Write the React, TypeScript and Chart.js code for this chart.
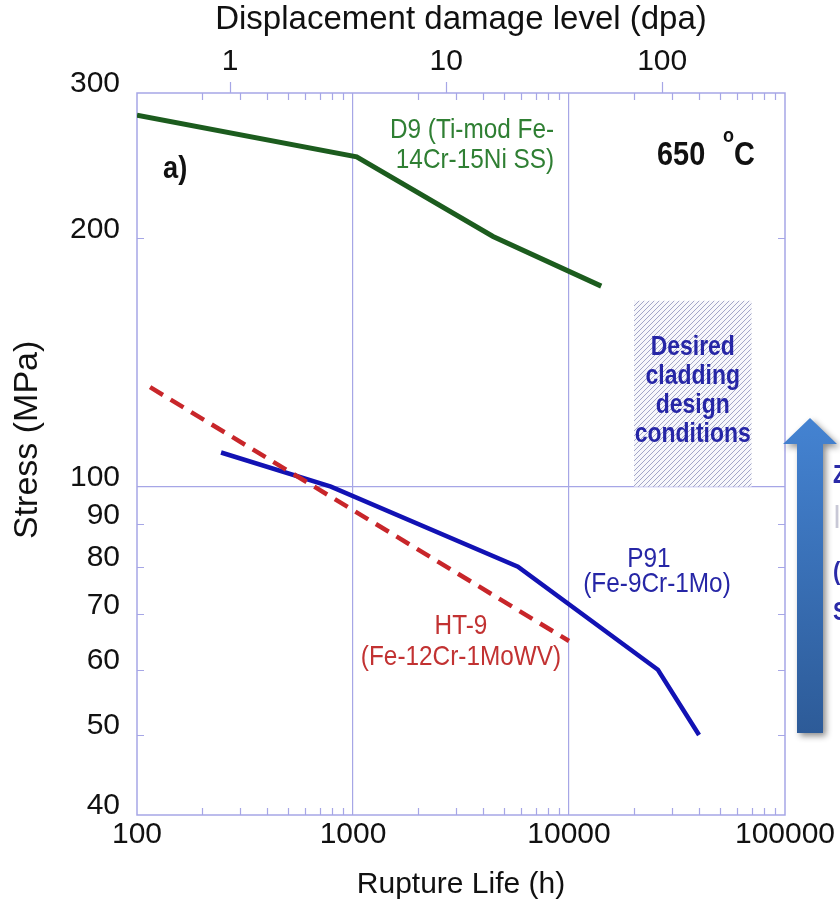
import React, { useEffect, useRef } from 'react';
import { Chart, registerables } from 'chart.js';

Chart.register(...registerables);

// ---------- data ----------
const X_TICKS = [100, 1000, 10000, 100000];
const X_GRID = [1000, 10000];
const DPA_TICKS = [1, 10, 100];
const HOURS_PER_DPA = 270;
const Y_TICKS = [40, 50, 60, 70, 80, 90, 100, 200, 300];
const Y_MINOR = [50, 60, 70, 80, 90, 200];
const Y_GRID = [100];

const D9_HOURS = [100, 1040, 4450, 14100];
const D9_STRESS = [282, 251, 201, 175];
const HT9_HOURS = [115, 10000];
const HT9_STRESS = [132, 65];
const P91_HOURS = [245, 790, 5800, 25800, 40000];
const P91_STRESS = [110, 100, 80, 60, 50];

const TARGET_HOURS = [20000, 70000];
const TARGET_STRESS = [100, 168];

// ---------- styles ----------
const FONT = "'Liberation Sans', Arial, Helvetica, sans-serif";
const AXIS = '#a6a6e6';
const TEXT = '#111111';
const GREEN = '#1c5c1e';
const GREEN_TXT = '#2f7f33';
const BLUE = '#1212b4';
const BLUE_TXT = '#2626a6';
const RED = '#c8262a';
const RED_TXT = '#c23232';

function pts(xs: number[], ys: number[]) {
  return xs.map((x, i) => ({ x, y: ys[i] }));
}

function hatch(ctx: CanvasRenderingContext2D) {
  const c = document.createElement('canvas');
  c.width = 5;
  c.height = 5;
  const g = c.getContext('2d')!;
  g.fillStyle = '#f7f7fb';
  g.fillRect(0, 0, 5, 5);
  g.strokeStyle = '#a3a6c8';
  g.lineWidth = 1;
  g.beginPath();
  g.moveTo(-1, 6);
  g.lineTo(6, -1);
  g.moveTo(-1, 1);
  g.lineTo(1, -1);
  g.moveTo(4, 6);
  g.lineTo(6, 4);
  g.stroke();
  return ctx.createPattern(c, 'repeat')!;
}

function txt(
  ctx: CanvasRenderingContext2D,
  s: string,
  x: number,
  baseline: number,
  font: string,
  color: string,
  align: CanvasTextAlign,
  sx: number
) {
  ctx.save();
  ctx.font = font;
  ctx.fillStyle = color;
  ctx.textAlign = align;
  ctx.textBaseline = 'alphabetic';
  ctx.translate(x, baseline);
  ctx.scale(sx, 1);
  ctx.fillText(s, 0, 0);
  ctx.restore();
}

const decor = {
  id: 'decor',
  beforeDatasetsDraw(chart: any) {
    const { ctx, chartArea: a, scales } = chart;
    const x = scales.x;
    const y = scales.y;
    const x2 = scales.x2;
    ctx.save();
    // desired design region
    const bx0 = x.getPixelForValue(TARGET_HOURS[0]);
    const bx1 = x.getPixelForValue(TARGET_HOURS[1]);
    const by0 = y.getPixelForValue(TARGET_STRESS[1]);
    const by1 = y.getPixelForValue(TARGET_STRESS[0]);
    ctx.fillStyle = hatch(ctx);
    ctx.fillRect(bx0, by0, bx1 - bx0, by1 - by0);

    // frame
    ctx.strokeStyle = AXIS;
    ctx.lineWidth = 1.5;
    ctx.strokeRect(a.left, a.top, a.right - a.left, a.bottom - a.top);

    // inward minor ticks
    ctx.lineWidth = 1.2;
    ctx.beginPath();
    for (let d = 100; d < 100000; d *= 10) {
      for (let m = 2; m <= 9; m++) {
        const px = Math.round(x.getPixelForValue(d * m)) + 0.5;
        ctx.moveTo(px, a.bottom);
        ctx.lineTo(px, a.bottom - 7);
        ctx.moveTo(px, a.top);
        ctx.lineTo(px, a.top + 7);
      }
    }
    for (const v of Y_MINOR) {
      const py = Math.round(y.getPixelForValue(v)) + 0.5;
      ctx.moveTo(a.left, py);
      ctx.lineTo(a.left + 7, py);
      ctx.moveTo(a.right, py);
      ctx.lineTo(a.right - 7, py);
    }
    // outward ticks of dpa axis
    for (const v of DPA_TICKS) {
      const px = Math.round(x2.getPixelForValue(v)) + 0.5;
      ctx.moveTo(px, a.top);
      ctx.lineTo(px, a.top - 11);
    }
    ctx.stroke();
    ctx.restore();
  },
  afterDatasetsDraw(chart: any) {
    const { ctx, scales } = chart;
    const x = scales.x;
    const y = scales.y;
    const reg = `28px ${FONT}`;
    const SX = 0.87;

    // D9 label
    const d9x = x.getPixelForValue(3556);
    const d9y = y.getPixelForValue(264.6);
    txt(ctx, 'D9 (Ti-mod Fe-', d9x, d9y, reg, GREEN_TXT, 'center', SX);
    txt(ctx, '14Cr-15Ni SS)', d9x + 3, d9y + 30, reg, GREEN_TXT, 'center', SX);

    // P91 label
    const p9x = x.getPixelForValue(24480);
    const p9y = y.getPixelForValue(80);
    txt(ctx, 'P91', p9x - 4, p9y, reg, BLUE_TXT, 'center', SX);
    txt(ctx, '(Fe-9Cr-1Mo)', p9x + 4, p9y + 25, reg, BLUE_TXT, 'center', SX);

    // HT-9 label
    const htx = x.getPixelForValue(3162);
    const hty = y.getPixelForValue(66.3);
    txt(ctx, 'HT-9', htx, hty, reg, RED_TXT, 'center', SX);
    txt(ctx, '(Fe-12Cr-1MoWV)', htx, hty + 31, reg, RED_TXT, 'center', SX);

    // temperature
    const tx = x.getPixelForValue(25560);
    const ty = y.getPixelForValue(245.4);
    txt(ctx, '650', tx, ty, `bold 34px ${FONT}`, TEXT, 'left', 0.85);
    txt(ctx, 'o', tx + 66, ty - 23, `bold 20px ${FONT}`, TEXT, 'left', 0.9);
    txt(ctx, 'C', tx + 77, ty, `bold 34px ${FONT}`, TEXT, 'left', 0.85);

    // panel letter
    txt(ctx, 'a)', x.getPixelForValue(132), y.getPixelForValue(236.6), `bold 32px ${FONT}`, TEXT, 'left', 0.85);

    // region text
    const bx = (x.getPixelForValue(TARGET_HOURS[0]) + x.getPixelForValue(TARGET_HOURS[1])) / 2;
    const by = (y.getPixelForValue(TARGET_STRESS[0]) + y.getPixelForValue(TARGET_STRESS[1])) / 2;
    const lines = ['Desired', 'cladding', 'design', 'conditions'];
    lines.forEach((s, i) => {
      txt(ctx, s, bx, by - 38.7 + i * 29, `bold 27px ${FONT}`, BLUE_TXT, 'center', 0.85);
    });
  },
  afterDraw(chart: any) {
    const { ctx, chartArea: a } = chart;
    const r = a.right;
    const tipY = 418;
    const headY = 444;
    const botY = 733;
    ctx.save();
    ctx.shadowColor = 'rgba(0,0,0,0.45)';
    ctx.shadowBlur = 6;
    ctx.shadowOffsetX = 3;
    ctx.shadowOffsetY = 3;
    const grad = ctx.createLinearGradient(0, tipY, 0, botY);
    grad.addColorStop(0, '#4483d2');
    grad.addColorStop(1, '#2d5b98');
    ctx.fillStyle = grad;
    ctx.beginPath();
    ctx.moveTo(r + 25, tipY);
    ctx.lineTo(r + 52, headY);
    ctx.lineTo(r + 38, headY);
    ctx.lineTo(r + 38, botY);
    ctx.lineTo(r + 12, botY);
    ctx.lineTo(r + 12, headY);
    ctx.lineTo(r - 2, headY);
    ctx.closePath();
    ctx.fill();
    ctx.restore();

    // cut-off side text
    const f = `bold 26px ${FONT}`;
    txt(ctx, 'Z', r + 48, 483, f, '#2a2aa8', 'left', 0.85);
    txt(ctx, 'I', r + 48, 528, `34px ${FONT}`, '#c8c8d6', 'left', 0.85);
    txt(ctx, '(', r + 48, 580, f, '#2a2aa8', 'left', 0.85);
    txt(ctx, 'S', r + 48, 620, f, '#2a2aa8', 'left', 0.85);
  },
};

export default function App() {
  const ref = useRef<HTMLCanvasElement>(null);

  useEffect(() => {
    const canvas = ref.current;
    if (!canvas) return;
    const chart = new Chart(canvas, {
      type: 'line',
      data: {
        datasets: [
          {
            label: 'D9 (Ti-mod Fe-14Cr-15Ni SS)',
            data: pts(D9_HOURS, D9_STRESS),
            borderColor: GREEN,
            borderWidth: 5,
            pointRadius: 0,
            tension: 0,
            fill: false,
          },
          {
            label: 'HT-9 (Fe-12Cr-1MoWV)',
            data: pts(HT9_HOURS, HT9_STRESS),
            borderColor: RED,
            borderWidth: 4.5,
            borderDash: [15, 9],
            pointRadius: 0,
            tension: 0,
            fill: false,
          },
          {
            label: 'P91 (Fe-9Cr-1Mo)',
            data: pts(P91_HOURS, P91_STRESS),
            borderColor: BLUE,
            borderWidth: 4.5,
            pointRadius: 0,
            tension: 0,
            fill: false,
          },
        ],
      },
      options: {
        responsive: false,
        animation: false,
        devicePixelRatio: 1,
        layout: { padding: { left: 0, right: 55, top: 0, bottom: 0 } },
        plugins: {
          legend: { display: false },
          tooltip: { enabled: false },
        },
        scales: {
          x: {
            type: 'logarithmic',
            position: 'bottom',
            min: 100,
            max: 100000,
            afterBuildTicks: (s: any) => {
              s.ticks = X_TICKS.map((v) => ({ value: v }));
            },
            afterFit: (s: any) => {
              s.height = 102;
            },
            ticks: {
              autoSkip: false,
              maxRotation: 0,
              padding: 2,
              color: TEXT,
              font: { family: FONT, size: 30 },
              callback: (v: any) => String(v),
            },
            grid: {
              drawTicks: false,
              lineWidth: 1.2,
              color: (c: any) => (c.tick && X_GRID.includes(c.tick.value) ? AXIS : 'rgba(0,0,0,0)'),
            },
            border: { display: false },
            title: {
              display: true,
              text: 'Rupture Life (h)',
              color: TEXT,
              font: { family: FONT, size: 30 },
              padding: { top: 0, bottom: 14 },
            },
          },
          x2: {
            type: 'logarithmic',
            position: 'top',
            min: 100 / HOURS_PER_DPA,
            max: 100000 / HOURS_PER_DPA,
            afterBuildTicks: (s: any) => {
              s.ticks = DPA_TICKS.map((v) => ({ value: v }));
            },
            afterFit: (s: any) => {
              s.height = 93;
            },
            ticks: {
              autoSkip: false,
              maxRotation: 0,
              padding: 13,
              color: TEXT,
              font: { family: FONT, size: 30 },
              callback: (v: any) => String(v),
            },
            grid: { display: false, drawTicks: false },
            border: { display: false },
            title: {
              display: true,
              text: 'Displacement damage level (dpa)',
              color: TEXT,
              font: { family: FONT, size: 33 },
              padding: { top: 0, bottom: 0 },
            },
          },
          y: {
            type: 'logarithmic',
            min: 40,
            max: 300,
            afterBuildTicks: (s: any) => {
              s.ticks = Y_TICKS.map((v) => ({ value: v }));
            },
            afterFit: (s: any) => {
              s.width = 137;
            },
            ticks: {
              autoSkip: false,
              padding: 17,
              labelOffset: -9,
              color: TEXT,
              font: { family: FONT, size: 30 },
              callback: (v: any) => String(v),
            },
            grid: {
              drawTicks: false,
              lineWidth: 1.2,
              color: (c: any) => (c.tick && Y_GRID.includes(c.tick.value) ? AXIS : 'rgba(0,0,0,0)'),
            },
            border: { display: false },
            title: {
              display: true,
              text: '   Stress (MPa)',
              color: TEXT,
              font: { family: FONT, size: 34 },
              padding: { top: 7, bottom: 0 },
            },
          },
        },
      },
      plugins: [decor],
    } as any);
    return () => chart.destroy();
  }, []);

  return (
    <div style={{ position: 'absolute', left: 0, top: 0, width: 840, height: 917, background: '#ffffff', overflow: 'hidden' }}>
      <canvas ref={ref} width={840} height={917} style={{ display: 'block', width: 840, height: 917 }} />
    </div>
  );
}
